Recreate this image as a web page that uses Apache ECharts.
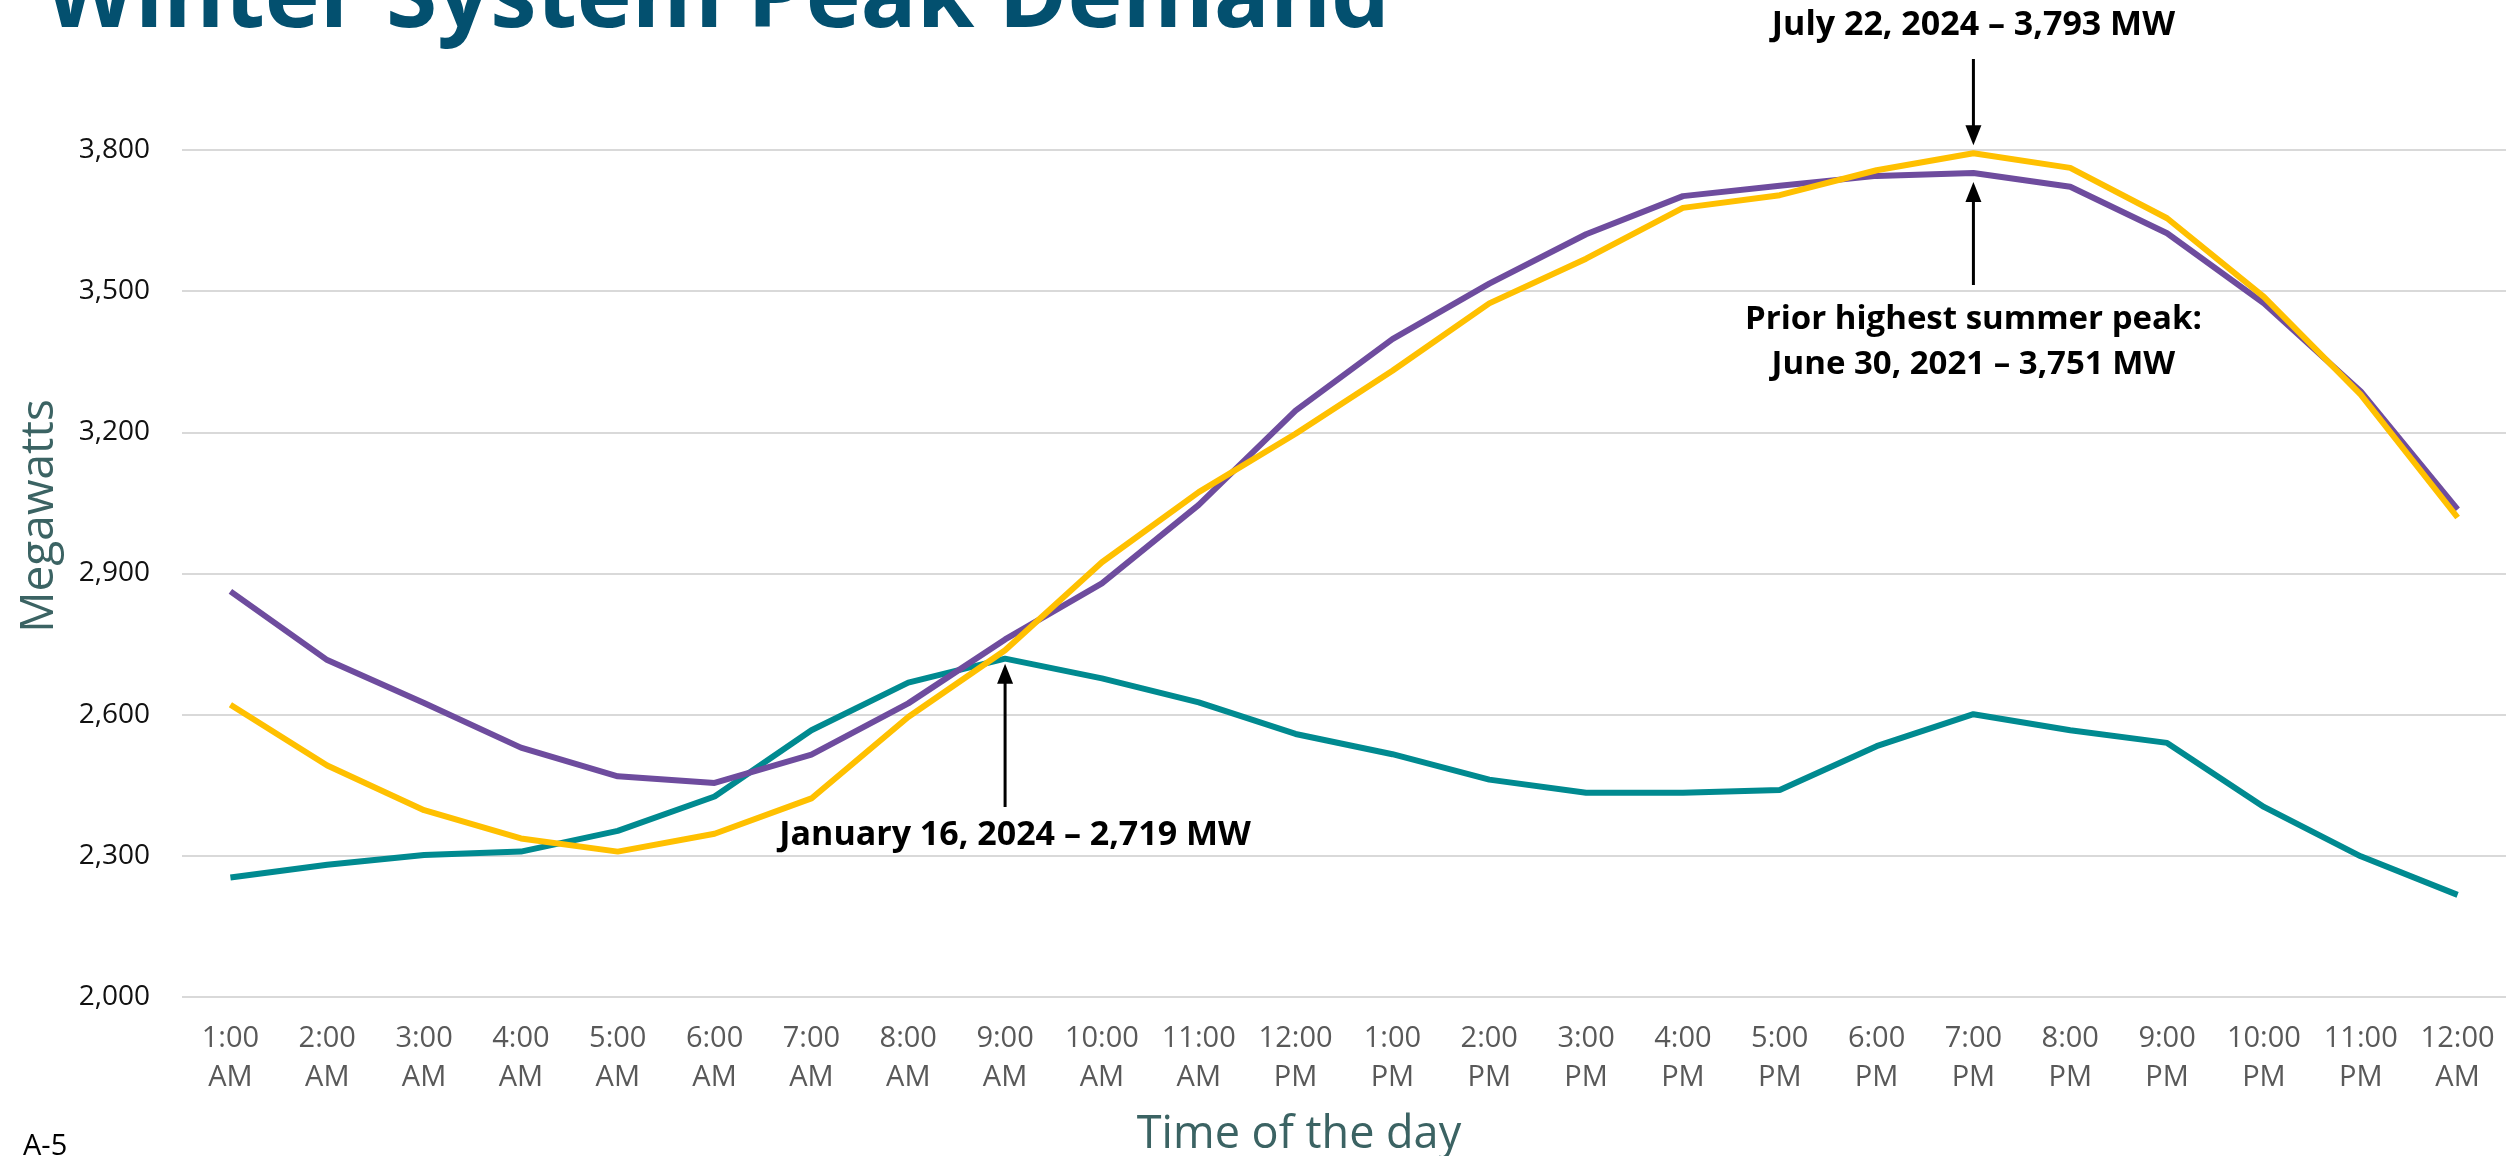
<!DOCTYPE html>
<html>
<head>
<meta charset="utf-8">
<script src="https://cdn.jsdelivr.net/npm/echarts@6/dist/echarts.min.js"></script>
<style>
html,body{margin:0;padding:0;background:#fff;}
#chart{width:2506px;height:1156px;}
</style>
</head>
<body>
<div id="chart"></div>
<script>
// ---- data ----
const hours = ['1:00\nAM','2:00\nAM','3:00\nAM','4:00\nAM','5:00\nAM','6:00\nAM','7:00\nAM','8:00\nAM','9:00\nAM','10:00\nAM','11:00\nAM','12:00\nPM',
               '1:00\nPM','2:00\nPM','3:00\nPM','4:00\nPM','5:00\nPM','6:00\nPM','7:00\nPM','8:00\nPM','9:00\nPM','10:00\nPM','11:00\nPM','12:00\nAM'];
const winter2024 = [2254,2281,2302,2309,2353,2426,2567,2668,2719,2677,2626,2559,2516,2462,2434,2434,2440,2533,2601,2567,2540,2404,2299,2217];
const summer2021 = [2862,2716,2625,2530,2469,2455,2515,2624,2760,2879,3046,3246,3398,3516,3621,3702,3724,3745,3751,3722,3623,3474,3287,3036];
const summer2024 = [2621,2492,2397,2337,2309,2347,2422,2595,2737,2924,3073,3197,3331,3474,3569,3677,3704,3757,3793,3762,3655,3488,3280,3019];
const yMin = 2000, yMax = 3800, yStep = 300;
const titleText = 'Winter System Peak Demand';
const yTitle = 'Megawatts';
const xTitle = 'Time of the day';
const pageLabel = 'A-5';
const noteSummer2024 = 'July 22, 2024 \u2013 3,793 MW';
const noteSummer2021 = ['Prior highest summer peak:', 'June 30, 2021 \u2013 3,751 MW'];
const noteWinter2024 = 'January 16, 2024 \u2013 2,719 MW';
const peakSummerIdx = 18, peakWinterIdx = 8;

const FONT = '"Open Sans", "Noto Sans", sans-serif';
const chart = echarts.init(document.getElementById('chart'));

chart.setOption({
  animation: false,
  backgroundColor: '#ffffff',
  grid: { left: 182, right: 0, top: 150, bottom: 159, containLabel: false, outerBoundsMode: 'none' },
  xAxis: {
    type: 'category',
    data: hours,
    boundaryGap: true,
    axisLine: { show: false },
    axisTick: { show: false },
    axisLabel: { color: '#595959', fontFamily: FONT, fontSize: 29, lineHeight: 39, margin: 22, interval: 0 }
  },
  yAxis: {
    type: 'value',
    min: yMin, max: yMax, interval: yStep,
    axisLine: { show: false },
    axisTick: { show: false },
    splitLine: { lineStyle: { color: '#D9D9D9', width: 2 } },
    axisLabel: {
      color: '#111', fontFamily: FONT, fontSize: 28, margin: 32,
      formatter: v => v.toLocaleString('en-US')
    }
  },
  series: [
    { name: 'Winter 2024', type: 'line', data: winter2024, symbol: 'none', lineStyle: { color: '#008A90', width: 6 }, itemStyle: { color: '#008A90' } },
    { name: 'Summer 2021', type: 'line', data: summer2021, symbol: 'none', lineStyle: { color: '#6E4C9E', width: 6 }, itemStyle: { color: '#6E4C9E' } },
    { name: 'Summer 2024', type: 'line', data: summer2024, symbol: 'none', lineStyle: { color: '#FFC000', width: 6 }, itemStyle: { color: '#FFC000' } }
  ]
});

function arrow(x, yTail, yTip) {
  const dir = yTip > yTail ? 1 : -1;
  const headH = 20, headW = 8;
  return {
    type: 'group',
    children: [
      { type: 'line', shape: { x1: x, y1: yTail, x2: x, y2: yTip - dir * headH * 0.8 }, style: { stroke: '#000', lineWidth: 3 } },
      { type: 'polygon', shape: { points: [[x, yTip], [x - headW, yTip - dir * headH], [x + headW, yTip - dir * headH]] }, style: { fill: '#000' } }
    ]
  };
}
function label(text, x, y, size, bold, color, align) {
  return {
    type: 'text',
    style: {
      text: text, x: x, y: y,
      font: (bold ? 'bold ' : '') + size + 'px ' + FONT,
      fill: color || '#000',
      textAlign: align || 'center',
      textVerticalAlign: 'middle'
    }
  };
}

const pSum24 = chart.convertToPixel({ gridIndex: 0 }, [peakSummerIdx, summer2024[peakSummerIdx]]);
const pSum21 = chart.convertToPixel({ gridIndex: 0 }, [peakSummerIdx, summer2021[peakSummerIdx]]);
const pWin24 = chart.convertToPixel({ gridIndex: 0 }, [peakWinterIdx, winter2024[peakWinterIdx]]);

chart.setOption({
  graphic: [
    label(titleText, 45, 0, 93, true, '#03506F', 'left'),
    label(noteSummer2024, pSum24[0], 25, 34, true),
    arrow(pSum24[0], 59, pSum24[1] - 8),
    arrow(pSum21[0], 285, pSum21[1] + 9),
    label(noteSummer2021[0], pSum21[0], 320, 33, true),
    label(noteSummer2021[1], pSum21[0], 365, 33, true),
    arrow(pWin24[0], 807, pWin24[1] + 5),
    label(noteWinter2024, pWin24[0] + 10, 835, 34, true),
    label(xTitle, 1299, 1135, 45, false, '#3B6363'),
    {
      type: 'text', x: 40, y: 516, rotation: Math.PI / 2,
      style: { text: yTitle, x: 0, y: 0, font: '46px ' + FONT, fill: '#3B6363', textAlign: 'center', textVerticalAlign: 'middle' }
    },
    label(pageLabel, 23, 1147, 29, false, '#000', 'left')
  ]
});
</script>
</body>
</html>
